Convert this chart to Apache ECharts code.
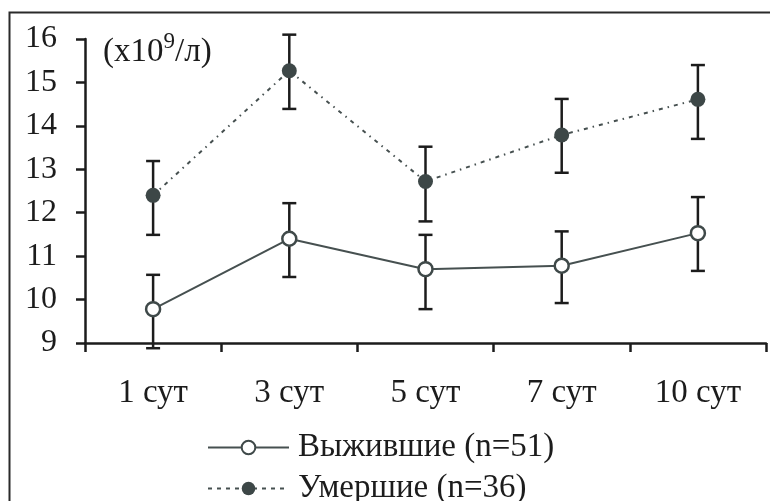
<!DOCTYPE html>
<html>
<head>
<meta charset="utf-8">
<script src="https://cdn.jsdelivr.net/npm/echarts@6/dist/echarts.min.js"></script>
<style>
  html, body { margin: 0; padding: 0; background: #fff; }
  #chart { width: 770px; height: 501px; }
</style>
</head>
<body>
<div id="chart"></div>
<script>
// Days of observation
const days = ['1 сут', '3 сут', '5 сут', '7 сут', '10 сут'];

// Leukocyte count, x10^9/л — survivors (mean and error-bar bounds)
const survivedMean = [9.78, 11.40, 10.70, 10.78, 11.53];
const survivedLow  = [8.88, 10.52, 9.78, 9.92, 10.66];
const survivedHigh = [10.57, 12.22, 11.49, 11.57, 12.36];

// Leukocyte count, x10^9/л — deceased (mean and error-bar bounds)
const diedMean = [12.40, 15.27, 12.72, 13.79, 14.61];
const diedLow  = [11.49, 14.39, 11.80, 12.92, 13.70];
const diedHigh = [13.19, 16.10, 13.52, 14.62, 15.40];

const yTicks = [9, 10, 11, 12, 13, 14, 15, 16];

const FONT = 'Liberation Serif';
const INK = '#1c1c1c';

function errorData(low, high) {
  return days.map((d, i) => [i, low[i], high[i]]);
}

function renderErrorBar(params, api) {
  const x = api.value(0);
  const lo = api.coord([x, api.value(1)]);
  const hi = api.coord([x, api.value(2)]);
  const half = 7;
  const style = { stroke: INK, lineWidth: 2.5 };
  return {
    type: 'group',
    children: [
      { type: 'line', shape: { x1: lo[0], y1: lo[1], x2: hi[0], y2: hi[1] }, style },
      { type: 'line', shape: { x1: hi[0] - half, y1: hi[1], x2: hi[0] + half, y2: hi[1] }, style },
      { type: 'line', shape: { x1: lo[0] - half, y1: lo[1], x2: lo[0] + half, y2: lo[1] }, style }
    ]
  };
}

const chart = echarts.init(document.getElementById('chart'), null, { renderer: 'canvas' });

chart.setOption({
  animation: false,
  backgroundColor: '#fff',
  title: {
    text: '{a|(x10}{s|9}{a|/л)}',
    left: 103,
    top: 30,
    padding: 0,
    textStyle: {
      fontWeight: 'normal',
      rich: {
        a: { fontFamily: FONT, fontSize: 33, fontWeight: 'normal', color: INK, lineHeight: 44 },
        s: { fontFamily: FONT, fontSize: 23, fontWeight: 'normal', color: INK, verticalAlign: 'top', lineHeight: 22 }
      }
    }
  },
  graphic: [{
    type: 'rect',
    left: 7,
    top: 10,
    shape: { width: 820, height: 600 },
    style: { fill: 'none', stroke: '#2a2a2a', lineWidth: 2 },
    z: 0
  }],
  legend: {
    orient: 'vertical',
    left: 207,
    top: 431,
    height: 100,
    padding: 0,
    itemGap: 8,
    itemWidth: 81,
    itemHeight: 17,
    textStyle: { fontFamily: FONT, fontSize: 33, color: INK, lineHeight: 33, padding: [0, 0, 0, 4] },
    data: [
      { name: 'Выжившие (n=51)' },
      { name: 'Умершие (n=36)', lineStyle: { type: [4, 5] } }
    ]
  },
  grid: { left: 85, right: 4, top: 39, bottom: 158 },
  xAxis: {
    type: 'category',
    data: days,
    boundaryGap: true,
    axisLine: { lineStyle: { color: INK, width: 2.5 } },
    axisTick: { show: true, length: 9, inside: false, lineStyle: { color: INK, width: 2.5 } },
    axisLabel: { fontFamily: FONT, fontSize: 33, color: INK, margin: 34 },
    splitLine: { show: false }
  },
  yAxis: {
    type: 'value',
    min: yTicks[0],
    max: yTicks[yTicks.length - 1],
    interval: 1,
    axisLine: { show: true, lineStyle: { color: INK, width: 2.5 } },
    axisTick: { show: true, length: 9, lineStyle: { color: INK, width: 2.5 } },
    axisLabel: { fontFamily: FONT, fontSize: 32, color: INK, margin: 28 },
    splitLine: { show: false }
  },
  series: [
    {
      type: 'custom',
      name: 'err-survived',
      renderItem: renderErrorBar,
      data: errorData(survivedLow, survivedHigh),
      encode: { x: 0, y: [1, 2] },
      clip: false,
      z: 1,
      silent: true
    },
    {
      type: 'custom',
      name: 'err-died',
      renderItem: renderErrorBar,
      data: errorData(diedLow, diedHigh),
      encode: { x: 0, y: [1, 2] },
      clip: false,
      z: 1,
      silent: true
    },
    {
      type: 'line',
      name: 'Выжившие (n=51)',
      data: survivedMean,
      symbol: 'circle',
      symbolSize: 14,
      showAllSymbol: true,
      clip: false,
      z: 3,
      lineStyle: { color: '#465050', width: 2 },
      itemStyle: { color: '#ffffff', borderColor: '#3f4949', borderWidth: 2.5 }
    },
    {
      type: 'line',
      name: 'Умершие (n=36)',
      data: diedMean,
      symbol: 'circle',
      symbolSize: 15,
      showAllSymbol: true,
      clip: false,
      z: 3,
      lineStyle: { color: '#465050', width: 2, type: [4, 5, 1.5, 5] },
      itemStyle: { color: '#3d4747', borderColor: '#3d4747', borderWidth: 0 }
    }
  ]
});
</script>
</body>
</html>
